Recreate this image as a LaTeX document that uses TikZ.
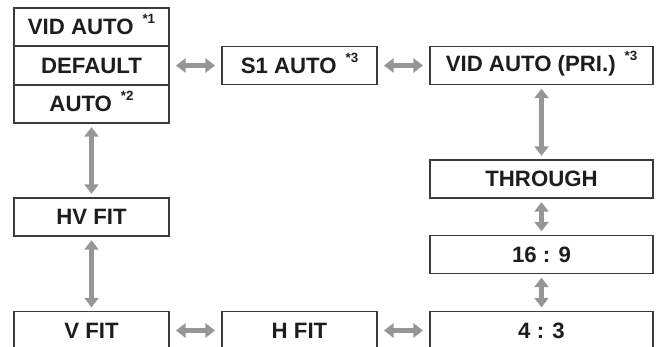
\documentclass[tikz,border=0pt]{standalone}
\usepackage{fontspec}
\setmainfont{Liberation Sans}
\usepackage{xcolor}
\definecolor{boxline}{RGB}{60, 60, 60}
\definecolor{arrowgray}{RGB}{150, 150, 150}
\definecolor{textdark}{RGB}{30, 28, 28}
\usepackage{tikz}
\usetikzlibrary{arrows.meta}
\newcommand{\fnmark}[1]{\hspace{0.4em}\smash{\raisebox{0.5em}{\fontsize{9.5}{9.5}\selectfont *#1}}}

\begin{document}
\begin{tikzpicture}[x=0.025cm, y=-0.025cm,
    modebox/.style={draw=boxline, line width=0.8pt, text=textdark, inner sep=0pt,
        font=\fontsize{15.8}{18}\selectfont\bfseries, minimum height=0.95cm},
    narrowbox/.style={modebox, minimum width=3.875cm},
    widebox/.style={modebox, minimum width=5.575cm},
    cyclearrow/.style={draw=arrowgray, line width=3.2pt,
        {Triangle[width=10pt,length=6.8pt]}-{Triangle[width=10pt,length=6.8pt]}},
    hgap/.style={shorten <=0.16cm, shorten >=0.16cm},
    vgap/.style={shorten <=0.09cm, shorten >=0.09cm}]
    \useasboundingbox (0, 0) rectangle (659, 347);
    \clip (0, 0) rectangle (659, 347);

    % Left stack
    \node[narrowbox] (vidauto) at (91.5, 27) {VID AUTO\fnmark{1}};
    \node[narrowbox] (default) at (91.5, 65.5) {DEFAULT};
    \node[narrowbox] (auto) at (91.5, 104) {AUTO\fnmark{2}};

    % Top row
    \node[narrowbox] (sauto) at (299.5, 65.5) {S1 AUTO\fnmark{3}};
    \node[widebox] (vidpri) at (541.5, 65.5) {VID AUTO (PRI.)\fnmark{3}};

    % Right column
    \node[widebox] (through) at (541.5, 179) {THROUGH};
    \node[widebox] (wide) at (541.5, 254.5) {16 : 9};
    \node[widebox] (std) at (541.5, 330.5) {4 : 3};

    % Left column and bottom row
    \node[narrowbox] (hvfit) at (91.5, 217) {HV FIT};
    \node[narrowbox] (vfit) at (91.5, 330.5) {V FIT};
    \node[narrowbox] (hfit) at (299.5, 330.5) {H FIT};

    % Connectors
    \draw[cyclearrow, hgap] (default) -- (sauto);
    \draw[cyclearrow, hgap] (sauto) -- (vidpri);
    \draw[cyclearrow, vgap] (vidpri) -- (through);
    \draw[cyclearrow, vgap] (through) -- (wide);
    \draw[cyclearrow, vgap] (wide) -- (std);
    \draw[cyclearrow, hgap] (std) -- (hfit);
    \draw[cyclearrow, hgap] (hfit) -- (vfit);
    \draw[cyclearrow, vgap] (vfit) -- (hvfit);
    \draw[cyclearrow, vgap] (hvfit) -- (auto);
\end{tikzpicture}
\end{document}
